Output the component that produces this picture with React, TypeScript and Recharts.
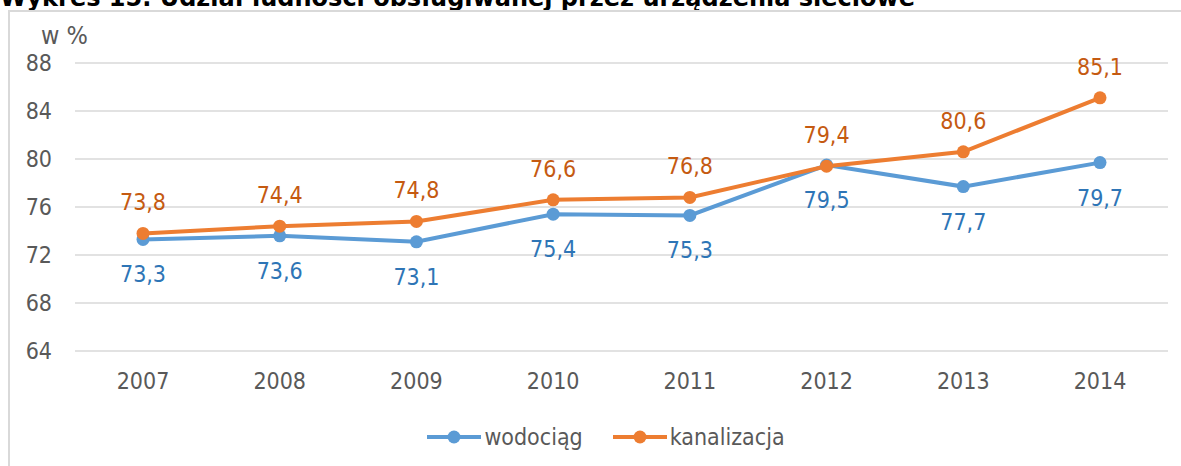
import React from "react";
import { LineChart, Line, XAxis, YAxis, CartesianGrid, Legend, LabelList } from "recharts";

const years = ["2007", "2008", "2009", "2010", "2011", "2012", "2013", "2014"];
const wodociag = [73.3, 73.6, 73.1, 75.4, 75.3, 79.5, 77.7, 79.7];
const kanalizacja = [73.8, 74.4, 74.8, 76.6, 76.8, 79.4, 80.6, 85.1];
const yTicks = [64, 68, 72, 76, 80, 84, 88];

const seriesMeta = [
  { key: "wodociag", name: "wodociąg", color: "#5B9BD5", labelColor: "#2E75B6", labelDy: 35 },
  { key: "kanalizacja", name: "kanalizacja", color: "#ED7D31", labelColor: "#C55A11", labelDy: -31 },
];

const data = years.map((year, i) => ({
  year,
  wodociag: wodociag[i],
  kanalizacja: kanalizacja[i],
}));

const FONT = "'DejaVu Sans Condensed', 'DejaVu Sans', sans-serif";
const fmt = (v: number) => v.toFixed(1).replace(".", ",");

function makeLabel(color: string, dy: number) {
  return (props: any) => {
    const { x, y, value } = props;
    return (
      <text
        x={x}
        y={y + dy}
        textAnchor="middle"
        dominantBaseline="central"
        fill={color}
        fontSize={23}
        fontFamily={FONT}
      >
        {fmt(value)}
      </text>
    );
  };
}

function LegendContent() {
  return (
    <div style={{ display: "flex", justifyContent: "center", alignItems: "center", height: 38, paddingLeft: 44 }}>
      {seriesMeta.map((s, i) => (
        <div key={s.key} style={{ display: "flex", alignItems: "center", marginLeft: i ? 30 : 0 }}>
          <svg width={54} height={16}>
            <line x1={0} y1={8} x2={54} y2={8} stroke={s.color} strokeWidth={4} />
            <circle cx={27} cy={8} r={6.5} fill={s.color} />
          </svg>
          <span style={{ marginLeft: 3, fontFamily: FONT, fontSize: 23, color: "#595959" }}>{s.name}</span>
        </div>
      ))}
    </div>
  );
}

export default function App() {
  return (
    <div style={{ position: "fixed", left: 0, top: 0, width: 1181, height: 466, overflow: "hidden", background: "#fff" }}>
      <div
        style={{
          position: "absolute",
          left: 0,
          top: -14,
          fontFamily: "'DejaVu Sans', sans-serif",
          fontWeight: "bold",
          fontSize: 24,
          lineHeight: "24px",
          whiteSpace: "nowrap",
          color: "#000",
        }}
      >
        Wykres 15. Udział ludności obsługiwanej przez urządzenia sieciowe
      </div>
      <div
        style={{
          position: "absolute",
          left: 8,
          top: 10,
          width: 1300,
          height: 600,
          borderLeft: "2px solid #d9d9d9",
          borderTop: "2px solid #d9d9d9",
        }}
      />
      <div
        style={{
          position: "absolute",
          left: 41,
          top: 22,
          fontFamily: FONT,
          fontSize: 25,
          lineHeight: "28px",
          color: "#595959",
        }}
      >
        w %
      </div>
      <div style={{ position: "absolute", left: 0, top: 0 }}>
        <LineChart width={1181} height={466} data={data} margin={{ top: 63, right: 13, bottom: 10, left: 0 }}>
          <CartesianGrid vertical={false} stroke="#d9d9d9" strokeWidth={1.5} />
          <XAxis
            dataKey="year"
            axisLine={false}
            tickLine={false}
            tickSize={0}
            tickMargin={22}
            height={67}
            padding={{ left: 68, right: 68 }}
            tick={{ fill: "#595959", fontSize: 23, fontFamily: FONT }}
          />
          <YAxis
            domain={[64, 88]}
            ticks={yTicks}
            axisLine={false}
            tickLine={false}
            tickSize={0}
            tickMargin={23}
            width={75}
            tick={{ fill: "#595959", fontSize: 23, fontFamily: FONT }}
          />
          <Legend verticalAlign="bottom" height={38} content={<LegendContent />} />
          {seriesMeta.map((s) => (
            <Line
              key={s.key}
              dataKey={s.key}
              name={s.name}
              stroke={s.color}
              strokeWidth={4}
              dot={{ r: 6.5, fill: s.color, stroke: s.color, strokeWidth: 0 }}
              activeDot={false}
              isAnimationActive={false}
            >
              <LabelList dataKey={s.key} content={makeLabel(s.labelColor, s.labelDy)} />
            </Line>
          ))}
        </LineChart>
      </div>
    </div>
  );
}
